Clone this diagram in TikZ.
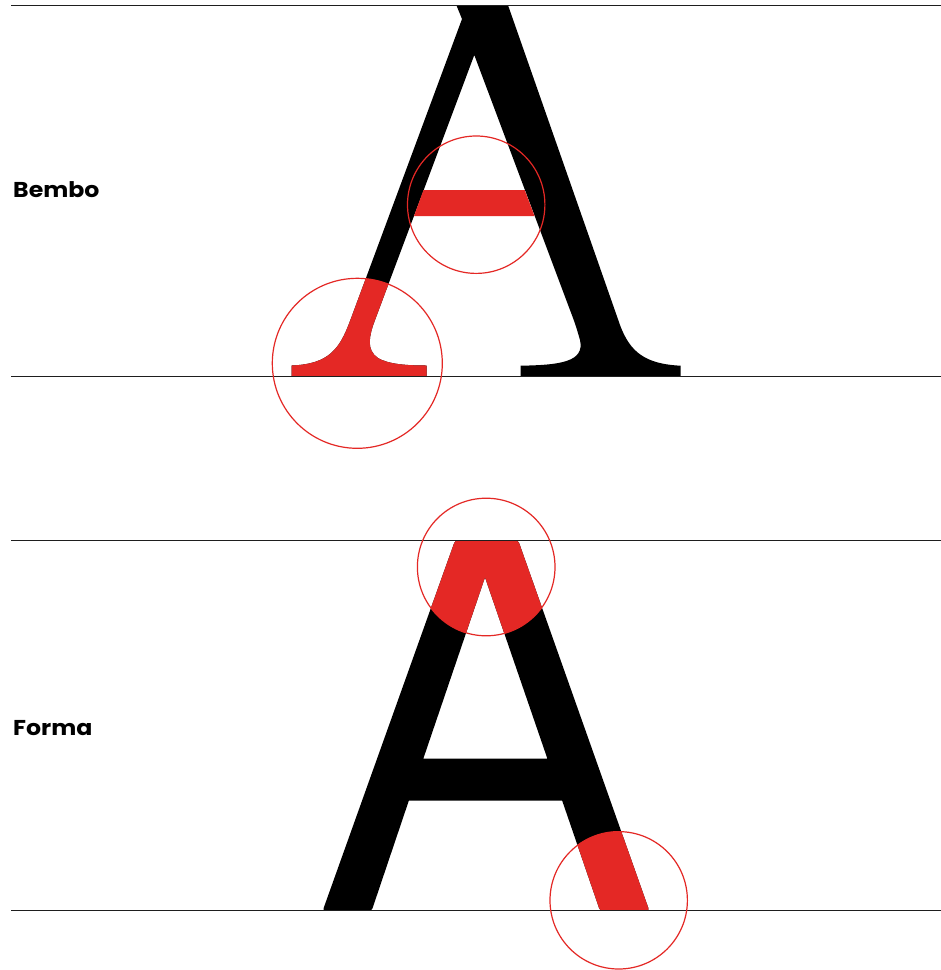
\documentclass[tikz,border=0pt]{standalone}
\usepackage{fontspec}
\setmainfont{Poppins}
\definecolor{accent}{RGB}{228,40,37}
\definecolor{rule}{RGB}{30,30,30}
\begin{document}
\begin{tikzpicture}[x=1pt,y=-1pt,
  guide/.style={draw=rule,line width=1.2pt},
  ring/.style={draw=accent,line width=1.2pt},
  label/.style={anchor=base west,inner sep=0pt,font=\bfseries\fontsize{21.5}{24}\selectfont}]
\useasboundingbox (0,0) rectangle (941,970);
\fill[white] (0,0) rectangle (941,970);
% ---------- Bembo A ----------
\def\bemboA{(456.7,6) -- (462,19) -- (350.4,320)
  .. controls (340,348) and (330,364) .. (291.7,365.5)
  -- (291.7,376.7) -- (426.7,376.7) -- (426.7,365.5)
  .. controls (405,365.5) and (388,364) .. (378,358)
  .. controls (366,350) and (369,336) .. (375,320)
  -- (474.3,55) -- (573,318)
  .. controls (576,326) and (578,333) .. (580,340)
  .. controls (585,362) and (560,365) .. (520.7,365.7)
  -- (520.7,376.7) -- (680.7,376.7) -- (680.7,365.7)
  .. controls (645,364) and (630,352) .. (620,325)
  -- (508.3,6) -- cycle}
\fill[black] \bemboA;
\begin{scope}
  \clip (357.3,363.3) circle[radius=85];
  \fill[accent] \bemboA;
\end{scope}
\fill[accent] (423.5,190) -- (524.7,190) -- (534.5,216) -- (414,216) -- cycle;
% ---------- Forma A ----------
\def\formaA{[rounded corners=2.5pt] (455,540.7) -- (518.3,540.7) -- (649.3,910.7) -- (600,910.7)
  [sharp corners] -- (562.2,800.7) -- (408.8,800.7) [rounded corners=2.5pt] -- (371.7,910.7) -- (322.7,910.7) -- cycle
  [sharp corners] (485,577.3) -- (547.4,758.7) -- (423.3,758.7) -- cycle}
\fill[black,even odd rule] \formaA;
\begin{scope}
  \clip (486.2,567) circle[radius=68.8];
  \fill[accent,even odd rule] \formaA;
\end{scope}
\begin{scope}
  \clip (618.7,900.3) circle[radius=68.7];
  \fill[accent,even odd rule] \formaA;
\end{scope}
% ---------- guide lines ----------
\coordinate (t1a) at (11,5.7);   \coordinate (t1b) at (941,5.7);
\coordinate (b1a) at (11,376.7); \coordinate (b1b) at (941,376.7);
\coordinate (t2a) at (11,540.3); \coordinate (t2b) at (941,540.3);
\coordinate (b2a) at (11,910.7); \coordinate (b2b) at (941,910.7);
\draw[guide] (t1a) -- (t1b);
\draw[guide] (b1a) -- (b1b);
\draw[guide] (t2a) -- (t2b);
\draw[guide] (b2a) -- (b2b);
% ---------- circles ----------
\draw[ring] (357.3,363.3) circle[radius=85];
\draw[ring] (476.2,204.7) circle[radius=68.7];
\draw[ring] (486.2,567) circle[radius=68.8];
\draw[ring] (618.7,900.3) circle[radius=68.7];
% ---------- labels ----------
\node[label] (bembo) at (13,197.7) {\scalebox{1.1}[1]{Bembo}};
\node[label] (forma) at (13,735) {\scalebox{1.1}[1]{Forma}};
\end{tikzpicture}
\end{document}
